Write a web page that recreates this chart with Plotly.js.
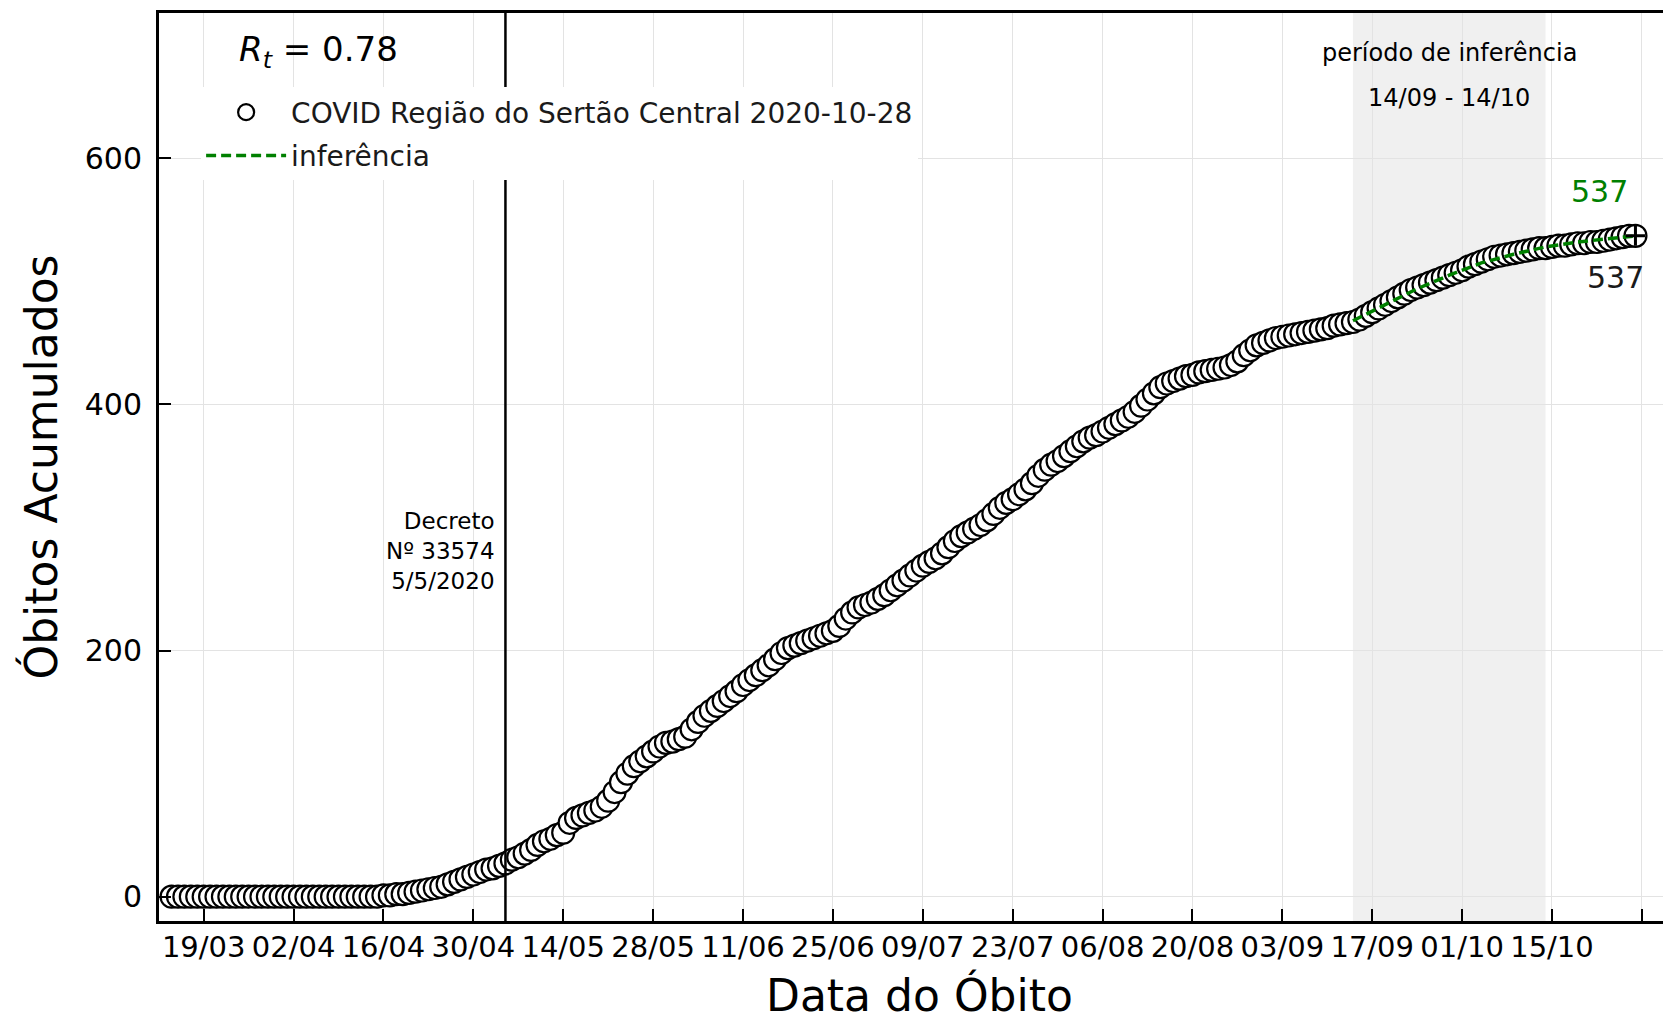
<!DOCTYPE html>
<html>
<head>
<meta charset="utf-8">
<script src="https://cdn.plot.ly/plotly-3.0.1.min.js"></script>
<style>html,body{margin:0;padding:0;background:#fff;}#chart{width:1663px;height:1016px;}</style>
</head>
<body>
<div id="chart"></div>
<script>
// ---- data ----
const startDate = '2020-03-14';
const obitos = [
  0,0,0,0,0,0,0,0,0,0, 0,0,0,0,0,0,0,0,0,0, 0,0,0,0,0,0,0,0,0,0, 0,0,0,
  1,1,2,2,3,4,5,6,7,8,
  10,12,14,16,18,20,22,23,25,27,
  30,32,35,38,42,45,47,50,52,60,
  64,66,68,70,73,78,85,93,100,106,
  110,114,118,122,125,126,128,130,136,142,
  147,151,155,159,163,167,172,176,180,184,
  188,193,198,202,204,206,208,210,212,214,
  216,220,226,231,235,237,239,242,245,249,
  253,257,261,265,269,272,275,279,284,289,
  293,296,299,302,306,311,316,320,323,327,
  331,336,342,347,351,354,358,362,366,370,
  373,375,378,381,384,387,390,394,399,404,
  409,414,417,419,421,423,424,426,427,428,
  429,430,432,435,440,444,448,450,452,454,
  455,456,457,458,459,460,461,462,464,465,
  466,467,469,472,475,478,481,484,487,490,
  493,495,497,499,501,503,505,507,509,512,
  514,516,518,520,521,522,523,524,525,526,
  527,527,528,529,529,530,531,531,532,532,
  533,534,535,536,537,537
];
const inferDates = ['2020-09-14','2020-09-19','2020-09-24','2020-09-29','2020-10-04','2020-10-09','2020-10-14','2020-10-19','2020-10-24','2020-10-28'];
const inferValues = [468, 481, 494, 505, 515, 522, 528, 532, 535, 537];
const inferStart = '2020-09-14';
const inferEnd = '2020-10-14';
const decreeDate = '2020-05-05';
const decreeText = 'Decreto<br>Nº 33574<br>5/5/2020';
const rtText = '<i>R</i><sub><i>t</i></sub> = 0.78';
const serieName = 'COVID Região do Sertão Central 2020-10-28';
const inferName = 'inferência';
const xTitle = 'Data do Óbito';
const yTitle = 'Óbitos Acumulados';

// dates for each daily value
const dates = [];
{
  const d0 = new Date(startDate + 'T00:00:00Z');
  for (let i = 0; i < obitos.length; i++) {
    const d = new Date(d0.getTime() + i * 86400000);
    dates.push(d.toISOString().slice(0, 10));
  }
}
const lastIdx = obitos.length - 1;
const lastInfer = inferValues.length - 1;

const FONT = 'DejaVu Sans, Liberation Sans, sans-serif';

const traces = [
  {
    x: dates, y: obitos, type: 'scatter', mode: 'markers', name: serieName,
    legendgroup: 'a',
    marker: {symbol: 'circle', size: 22, color: '#ffffff', line: {color: '#000000', width: 2.2}}
  },
  {
    x: inferDates, y: inferValues, type: 'scatter', mode: 'lines', name: inferName,
    legendgroup: 'b',
    line: {color: '#008000', width: 3.5, dash: '10px,5px'}
  },
  {
    x: [dates[lastIdx]], y: [obitos[lastIdx]], type: 'scatter', mode: 'markers',
    showlegend: false, hoverinfo: 'skip',
    marker: {symbol: 'cross-thin', size: 14, color: '#000000', line: {color: '#000000', width: 3}}
  }
];

const layout = {
  width: 1663, height: 1016,
  margin: {l: 159, r: 0, t: 13, b: 95},
  paper_bgcolor: '#ffffff', plot_bgcolor: '#ffffff',
  font: {family: FONT, color: '#000000'},
  showlegend: true,
  legend: {
    x: 0.028, y: 0.918, xanchor: 'left', yanchor: 'top',
    bgcolor: '#ffffff', borderwidth: 0,
    itemwidth: 80,
    font: {family: FONT, size: 28, color: '#1a1a1a'},
    traceorder: 'grouped', tracegroupgap: 4
  },
  xaxis: {
    type: 'date',
    range: ['2020-03-12 01:00', '2020-11-01 07:00'],
    tick0: '2020-03-19', dtick: 14 * 86400000, tickformat: '%d/%m',
    ticks: 'inside', ticklen: 12, tickwidth: 2, tickcolor: '#000000',
    showline: true, linewidth: 3, linecolor: '#000000', mirror: true,
    showgrid: true, gridcolor: '#e3e3e3', gridwidth: 1, zeroline: false,
    tickfont: {family: FONT, size: 29, color: '#000000'},
    ticklabelstandoff: -2,
    automargin: false
  },
  yaxis: {
    range: [-19.8, 718.1],
    tickvals: [0, 200, 400, 600],
    ticks: 'inside', ticklen: 12, tickwidth: 2, tickcolor: '#000000',
    showline: true, linewidth: 3, linecolor: '#000000', mirror: false,
    showgrid: true, gridcolor: '#e3e3e3', gridwidth: 1, zeroline: false,
    tickfont: {family: FONT, size: 30, color: '#000000'},
    ticklabelstandoff: 8,
    title: {text: yTitle, font: {family: FONT, size: 44, color: '#000000'}, standoff: 14},
    automargin: false
  },
  shapes: [
    {type: 'rect', xref: 'x', yref: 'paper', x0: inferStart, x1: inferEnd, y0: 0, y1: 1,
     fillcolor: '#f0f0f0', line: {width: 0}, layer: 'below'},
    {type: 'line', xref: 'x', yref: 'paper', x0: decreeDate, x1: decreeDate, y0: 0, y1: 1,
     line: {color: '#000000', width: 2.5}, layer: 'above'}
  ],
  annotations: [
    {xref: 'paper', yref: 'paper', x: 0.5057, y: -0.0815, xanchor: 'center', yanchor: 'middle',
     text: xTitle, showarrow: false, font: {family: FONT, size: 44, color: '#000000'}},
    {xref: 'paper', yref: 'paper', x: 0.052, y: 0.958, xanchor: 'left', yanchor: 'middle',
     text: rtText, showarrow: false, font: {family: FONT, size: 34, color: '#000000'}},
    {xref: 'x', yref: 'y', x: decreeDate, y: 281, xanchor: 'right', yanchor: 'middle', xshift: -8,
     text: decreeText, align: 'right', showarrow: false,
     font: {family: FONT, size: 23, color: '#000000'}},
    {xref: 'x', yref: 'paper', x: '2020-09-29', y: 0.956, xanchor: 'center', yanchor: 'middle',
     text: 'período de inferência', showarrow: false, font: {family: FONT, size: 24, color: '#000000'}},
    {xref: 'x', yref: 'paper', x: '2020-09-29', y: 0.906, xanchor: 'center', yanchor: 'middle',
     text: inferStart.slice(8,10) + '/' + inferStart.slice(5,7) + ' - ' + inferEnd.slice(8,10) + '/' + inferEnd.slice(5,7),
     showarrow: false, font: {family: FONT, size: 24, color: '#000000'}},
    {xref: 'x', yref: 'y', x: inferDates[lastInfer], y: inferValues[lastInfer], xshift: -36, yshift: 44,
     xanchor: 'center', yanchor: 'middle', text: String(inferValues[lastInfer]), showarrow: false,
     font: {family: FONT, size: 30, color: '#008000'}},
    {xref: 'x', yref: 'y', x: dates[lastIdx], y: obitos[lastIdx], xshift: -20, yshift: -42,
     xanchor: 'center', yanchor: 'middle', text: String(obitos[lastIdx]), showarrow: false,
     font: {family: FONT, size: 30, color: '#1a1a1a'}}
  ]
};

Plotly.newPlot('chart', traces, layout, {displayModeBar: false, staticPlot: true});
</script>
</body>
</html>
